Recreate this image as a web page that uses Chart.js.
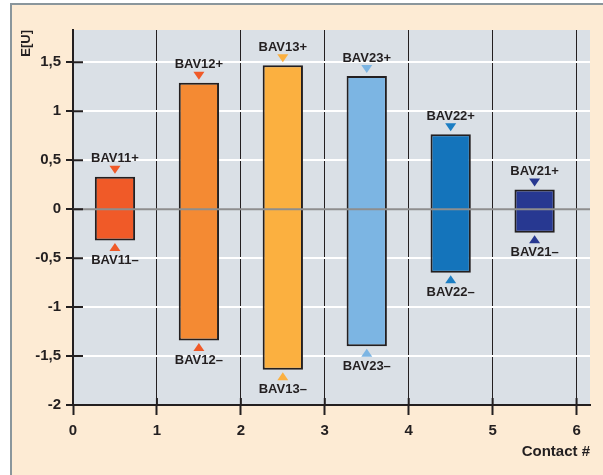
<!DOCTYPE html>
<html>
<head>
<meta charset="utf-8">
<script src="https://cdn.jsdelivr.net/npm/chart.js@4/dist/chart.umd.min.js"></script>
<style>
  html, body { margin: 0; padding: 0; background: #ffffff; }
  #c { display: block; }
</style>
</head>
<body>
<canvas id="c" width="603" height="475"></canvas>
<script>
// ---- data ----
const categories = ['BAV11', 'BAV12', 'BAV13', 'BAV23', 'BAV22', 'BAV21'];
const contactPos = [0.5, 1.5, 2.5, 3.5, 4.5, 5.5];
const upperValues = [0.33, 1.29, 1.47, 1.36, 0.765, 0.20];
const lowerValues = [-0.32, -1.34, -1.64, -1.40, -0.65, -0.24];
const yTickValues = [-2, -1.5, -1, -0.5, 0, 0.5, 1, 1.5];
const xTickValues = [0, 1, 2, 3, 4, 5, 6];

// ---- styles ----
const barColors = ['#F05A28', '#F48A33', '#FBB040', '#7CB5E3', '#1474BB', '#273891'];
const markerColors = ['#F05A28', '#F05A28', '#FBB040', '#7CB5E3', '#1C7EC3', '#273891'];
const DARK = '#231F20';
const FONT = '"Liberation Sans", Arial, Helvetica, sans-serif';

const barData = categories.map((c, i) => ({ x: contactPos[i], y: [lowerValues[i], upperValues[i]] }));

const decorPlugin = {
  id: 'decor',
  beforeDraw(chart) {
    const { ctx, width, height, chartArea: a } = chart;
    ctx.save();
    ctx.fillStyle = '#ffffff';
    ctx.fillRect(0, 0, width, height);
    ctx.fillStyle = '#FDEBD4';
    ctx.fillRect(11, 4, width - 11, height - 4);
    ctx.strokeStyle = '#8A969C';
    ctx.lineWidth = 2;
    ctx.beginPath();
    ctx.moveTo(10, 4); ctx.lineTo(width, 4);
    ctx.moveTo(11, 3); ctx.lineTo(11, height);
    ctx.stroke();
    ctx.fillStyle = '#DAE0E6';
    ctx.fillRect(a.left, a.top, a.right - a.left, a.bottom - a.top);
    ctx.restore();
  },
  afterDatasetsDraw(chart) {
    const { ctx, chartArea: a, scales: { x, y } } = chart;
    ctx.save();
    // zero line
    const y0 = y.getPixelForValue(0);
    ctx.strokeStyle = '#8E8E8E';
    ctx.lineWidth = 2;
    ctx.beginPath();
    ctx.moveTo(a.left, y0); ctx.lineTo(a.right, y0);
    ctx.stroke();
    // inner tick parts
    ctx.strokeStyle = DARK;
    ctx.lineWidth = 2;
    ctx.beginPath();
    y.ticks.forEach(t => {
      const py = y.getPixelForValue(t.value);
      ctx.moveTo(a.left, py); ctx.lineTo(a.left + 10, py);
    });
    x.ticks.forEach(t => {
      const px = x.getPixelForValue(t.value);
      ctx.moveTo(px, a.bottom); ctx.lineTo(px, a.bottom - 7);
    });
    ctx.stroke();
    // markers and labels
    ctx.font = 'bold 13px ' + FONT;
    ctx.textAlign = 'center';
    ctx.textBaseline = 'middle';
    categories.forEach((c, i) => {
      const px = x.getPixelForValue(contactPos[i]);
      const pt = y.getPixelForValue(upperValues[i]);
      const pb = y.getPixelForValue(lowerValues[i]);
      ctx.fillStyle = markerColors[i];
      let cy = pt - 7;
      ctx.beginPath();
      ctx.moveTo(px - 5.5, cy - 4); ctx.lineTo(px + 5.5, cy - 4); ctx.lineTo(px, cy + 4);
      ctx.closePath(); ctx.fill();
      cy = pb + 6.5;
      ctx.beginPath();
      ctx.moveTo(px - 5.5, cy + 4); ctx.lineTo(px + 5.5, cy + 4); ctx.lineTo(px, cy - 4);
      ctx.closePath(); ctx.fill();
      ctx.fillStyle = DARK;
      ctx.fillText(c + '+', px, pt - 18);
      ctx.fillText(c + '\u2013', px, pb + 20);
    });
    ctx.restore();
  }
};

new Chart(document.getElementById('c'), {
  type: 'bar',
  data: {
    datasets: [{
      data: barData,
      backgroundColor: barColors,
      borderColor: DARK,
      borderWidth: 2,
      borderSkipped: false,
      barPercentage: 0.48,
      categoryPercentage: 1
    }]
  },
  options: {
    responsive: false,
    devicePixelRatio: 1,
    animation: false,
    layout: { padding: { left: 0, top: 30, right: 13, bottom: 0 } },
    plugins: { legend: { display: false }, tooltip: { enabled: false } },
    scales: {
      x: {
        type: 'linear',
        min: 0,
        max: 6.16,
        offset: false,
        afterBuildTicks(scale) { scale.ticks = xTickValues.map(v => ({ value: v })); },
        afterFit(scale) { scale.height = 70; },
        grid: {
          offset: false,
          color: DARK,
          lineWidth: 1,
          drawTicks: true,
          tickLength: 10,
          tickColor: DARK,
          tickWidth: 2
        },
        border: { display: true, color: DARK, width: 2 },
        ticks: {
          color: DARK,
          font: { family: FONT, size: 15, weight: 'bold' },
          padding: 7,
          maxRotation: 0,
          callback: v => String(v)
        },
        title: {
          display: true,
          text: 'Contact #',
          align: 'end',
          color: DARK,
          font: { family: FONT, size: 15, weight: 'bold' },
          padding: { top: 0, bottom: 14 }
        }
      },
      y: {
        type: 'linear',
        min: -2,
        max: 1.83,
        afterBuildTicks(scale) { scale.ticks = yTickValues.map(v => ({ value: v })); },
        afterFit(scale) { scale.width = 73; },
        grid: {
          color: ctx => (ctx.tick && ctx.tick.value === 0) ? 'rgba(0,0,0,0)' : '#FFFFFF',
          lineWidth: 2,
          drawTicks: true,
          tickLength: 7,
          tickColor: DARK,
          tickWidth: 2
        },
        border: { display: true, color: DARK, width: 2 },
        ticks: {
          color: DARK,
          font: { family: FONT, size: 15, weight: 'bold' },
          padding: 5,
          callback: v => String(v).replace('.', ',')
        },
        title: {
          display: true,
          text: 'E[U]',
          align: 'end',
          color: DARK,
          font: { family: FONT, size: 13, weight: 'bold' },
          padding: { top: 19, bottom: 0 }
        }
      }
    }
  },
  plugins: [decorPlugin]
});
</script>
</body>
</html>
